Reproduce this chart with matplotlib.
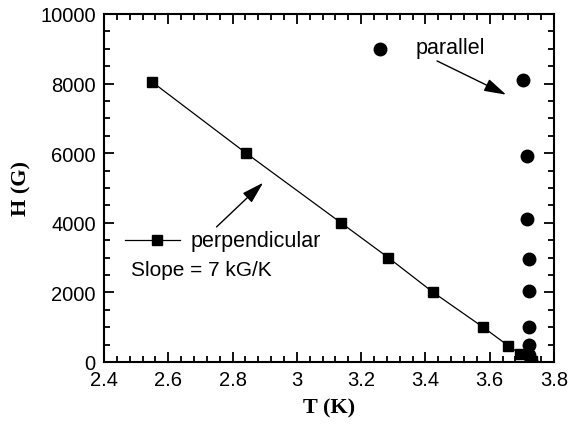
import matplotlib
matplotlib.use("Agg")
import matplotlib.pyplot as plt
from matplotlib.ticker import MultipleLocator

# DATA #
perp_T = [2.549, 2.842, 3.137, 3.284, 3.424, 3.579, 3.657, 3.695, 3.732]
perp_H = [8050, 6000, 4000, 3000, 2000, 1000, 470, 230, 30]

par_T = [3.703, 3.716, 3.716, 3.722, 3.722, 3.722, 3.722, 3.722, 3.728]
par_H = [8100, 5920, 4100, 2960, 2050, 1000, 500, 200, 30]

xticks = [2.4, 2.6, 2.8, 3.0, 3.2, 3.4, 3.6, 3.8]
xticklabels = ["2.4", "2.6", "2.8", "3", "3.2", "3.4", "3.6", "3.8"]
yticks = [0, 2000, 4000, 6000, 8000, 10000]
# END OF DATA #

sans = "Liberation Sans"
serif = "Liberation Serif"

fig = plt.figure(figsize=(5.7, 4.27), dpi=100)
ax = fig.add_axes([0.1825, 0.15, 0.7895, 0.815])

ax.plot(perp_T, perp_H, color="black", lw=0.9, marker="s", ms=7.5,
        markerfacecolor="black", markeredgecolor="black")
ax.plot(par_T, par_H, ls="none", marker="o", ms=9, color="black")

ax.set_xlim(2.4, 3.8)
ax.set_ylim(0, 10000)
ax.set_xticks(xticks)
ax.set_xticklabels(xticklabels)
ax.set_yticks(yticks)
ax.xaxis.set_minor_locator(MultipleLocator(0.04))
ax.yaxis.set_minor_locator(MultipleLocator(500))

ax.tick_params(which="both", direction="in", top=True, right=True, width=1.3)
ax.tick_params(which="major", length=7, pad=6)
ax.tick_params(which="minor", length=4)
for lab in ax.get_xticklabels() + ax.get_yticklabels():
    lab.set_fontfamily(sans)
    lab.set_fontsize(14.5)
for s in ax.spines.values():
    s.set_linewidth(1.5)

ax.set_xlabel("T (K)", fontfamily=serif, fontsize=16, fontweight="bold", labelpad=6)
ax.set_ylabel("H (G)", fontfamily=serif, fontsize=16, fontweight="bold", labelpad=6)

# legend drawn by hand, like the original
ax.plot([2.465, 2.635], [3500, 3500], color="black", lw=0.9)
ax.plot([2.565], [3500], marker="s", ms=7.5, color="black")
ax.text(2.67, 3500, "perpendicular", fontfamily=sans, fontsize=15.5, va="center")
ax.text(2.485, 2650, "Slope = 7 kG/K", fontfamily=sans, fontsize=15, va="center")

ax.plot([3.259], [9000], marker="o", ms=9, color="black")
ax.text(3.37, 9030, "parallel", fontfamily=sans, fontsize=15.5, va="center")

arrow = dict(arrowstyle="-|>,head_length=0.75,head_width=0.22", color="black",
             lw=1.0, mutation_scale=18, shrinkA=0, shrinkB=0)
ax.annotate("", xy=(3.651, 7680), xytext=(3.436, 8650), arrowprops=arrow)
ax.annotate("", xy=(2.895, 5150), xytext=(2.75, 3880), arrowprops=arrow)

fig.savefig("out.png", dpi=100)
